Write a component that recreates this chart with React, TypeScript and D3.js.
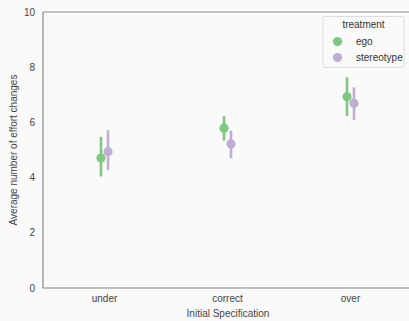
import React from "react";
import * as d3 from "d3";

const categories = ["under", "correct", "over"];
const treatments = ["ego", "stereotype"];
const egoMean = [4.71, 5.79, 6.93];
const egoLow = [4.04, 5.34, 6.23];
const egoHigh = [5.48, 6.23, 7.63];
const stereoMean = [4.94, 5.22, 6.69];
const stereoLow = [4.28, 4.7, 6.09];
const stereoHigh = [5.72, 5.7, 7.27];
const yTicks = [0, 2, 4, 6, 8, 10];
const colors = ["#7fc97f", "#beaed4"];

const W = 409, H = 321;
const left = 43, top = 12, bottom = 288, right = 412;

export default function App() {
  const x = d3.scaleBand<string>().domain(categories).range([left, right]);
  const y = d3.scaleLinear().domain([0, 10]).range([bottom, top]);
  const off = d3.scalePoint<string>().domain(treatments).range([-3.5, 3.5]);
  const series = [
    { name: "ego", mean: egoMean, lo: egoLow, hi: egoHigh },
    { name: "stereotype", mean: stereoMean, lo: stereoLow, hi: stereoHigh },
  ];
  const font = "'Liberation Sans', Arial, sans-serif";
  return (
    <svg width={W} height={H} style={{ position: "absolute", left: 0, top: 0, display: "block" }} fontFamily={font}>
      <rect x={0} y={0} width={W} height={H} fill="#fafafa" />
      <line x1={left} x2={W} y1={top} y2={top} stroke="#888" strokeWidth={1.2} />
      <line x1={left} x2={W} y1={bottom} y2={bottom} stroke="#888" strokeWidth={1.2} />
      <line x1={left} x2={left} y1={top} y2={bottom} stroke="#888" strokeWidth={1.2} />
      {yTicks.map((t) => (
        <text key={t} x={35} y={y(t)} dy="0.35em" textAnchor="end" fontSize={10} fill="#444">{t}</text>
      ))}
      {categories.map((c) => (
        <text key={c} x={x(c)! + x.bandwidth() / 2} y={302} textAnchor="middle" fontSize={10} fill="#444">{c}</text>
      ))}
      <text x={228} y={317} textAnchor="middle" fontSize={10} fill="#444">Initial Specification</text>
      <text transform={`translate(17,${(top + bottom) / 2}) rotate(-90)`} textAnchor="middle" fontSize={10} fill="#444">Average number of effort changes</text>
      {series.map((s, si) => (
        <g key={s.name}>
          {categories.map((c, i) => {
            const cx = x(c)! + x.bandwidth() / 2 + off(s.name)!;
            return (
              <g key={c}>
                <line x1={cx} x2={cx} y1={y(s.lo[i])} y2={y(s.hi[i])} stroke={colors[si]} strokeWidth={2.6} />
                <circle cx={cx} cy={y(s.mean[i])} r={4.6} fill={colors[si]} />
              </g>
            );
          })}
        </g>
      ))}
      <g>
        <rect x={323} y={16.5} width={81} height={51} rx={2} fill="#fafafa" stroke="#ddd" strokeWidth={1} />
        <text x={363.5} y={28} textAnchor="middle" fontSize={10} fill="#333">treatment</text>
        {treatments.map((t, i) => (
          <g key={t}>
            <circle cx={337.5} cy={41.5 + i * 16} r={4.6} fill={colors[i]} />
            <text x={356} y={41.5 + i * 16} dy="0.35em" fontSize={10} fill="#333">{t}</text>
          </g>
        ))}
      </g>
    </svg>
  );
}
